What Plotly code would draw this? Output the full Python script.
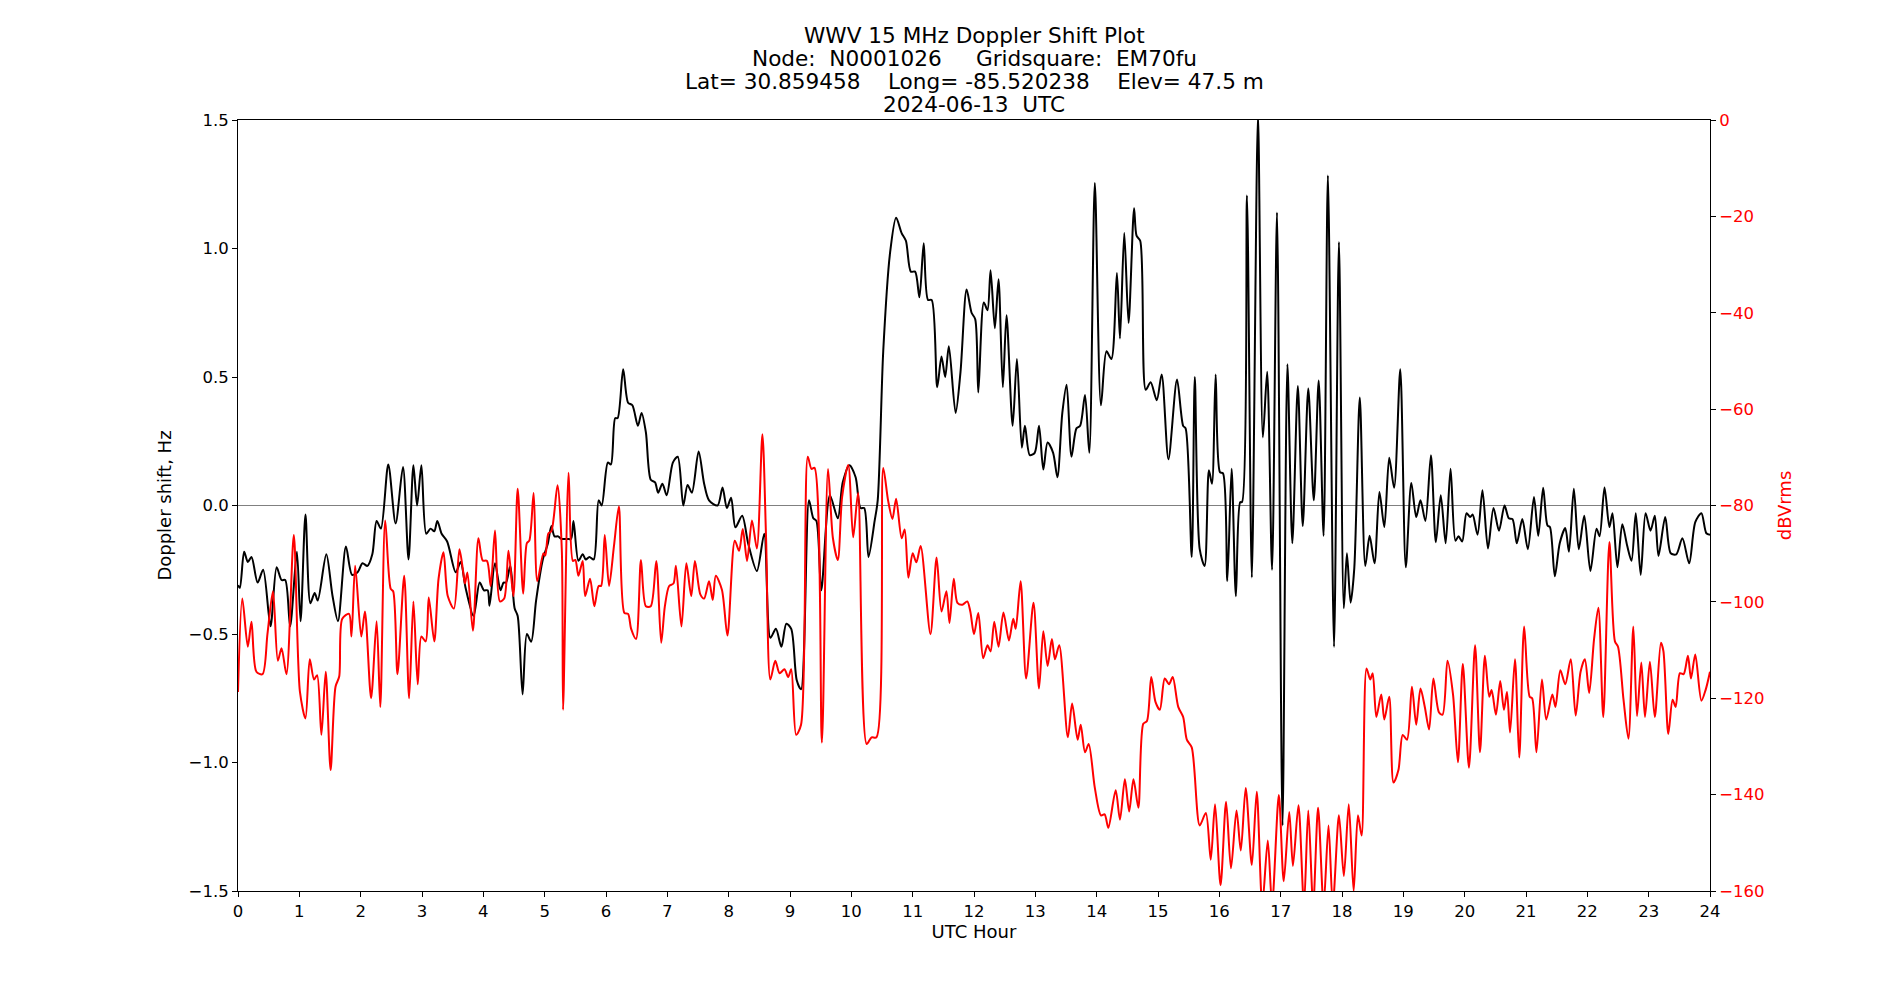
import plotly.graph_objects as go

# ---------------- data ----------------
doppler_hours = [0.00,0.03,0.10,0.16,0.22,0.32,0.41,0.53,0.63,0.71,0.77,0.85,0.96,1.02,1.10,1.18,1.25,1.30,1.44,1.54,
 1.63,1.76,1.86,1.95,2.03,2.11,2.19,2.26,2.33,2.45,2.57,2.69,2.78,2.86,2.92,2.99,3.07,3.14,3.20,3.25,
 3.32,3.41,3.55,3.63,3.71,3.84,3.94,4.01,4.07,4.10,4.19,4.28,4.33,4.37,4.44,4.51,4.56,4.64,4.71,4.78,
 4.86,4.97,5.05,5.11,5.16,5.22,5.27,5.37,5.43,5.47,5.55,5.62,5.67,5.73,5.80,5.88,5.93,6.03,6.08,6.15,
 6.19,6.28,6.36,6.43,6.52,6.58,6.65,6.73,6.80,6.85,6.92,6.99,7.09,7.17,7.26,7.33,7.40,7.51,7.60,7.68,
 7.82,7.90,7.97,8.04,8.11,8.22,8.32,8.46,8.58,8.68,8.77,8.86,8.94,9.02,9.11,9.18,9.31,9.38,9.43,9.51,
 9.65,9.78,9.86,9.97,10.07,10.15,10.21,10.28,10.38,10.43,10.52,10.63,10.73,10.82,10.89,10.97,11.04,11.11,11.18,11.25,
 11.31,11.40,11.47,11.53,11.59,11.70,11.78,11.88,11.96,12.02,12.07,12.16,12.22,12.27,12.34,12.40,12.47,12.53,12.63,12.70,
 12.78,12.83,12.91,12.99,13.06,13.13,13.20,13.29,13.36,13.44,13.51,13.59,13.67,13.73,13.81,13.88,13.97,14.07,14.16,14.24,
 14.33,14.38,14.45,14.52,14.61,14.65,14.71,14.80,14.88,14.98,15.06,15.17,15.31,15.41,15.45,15.55,15.60,15.68,15.76,15.83,
 15.88,15.94,16.01,16.06,16.13,16.20,16.27,16.34,16.37,16.45,16.53,16.63,16.71,16.78,16.86,16.94,17.03,17.11,17.19,17.28,
 17.36,17.45,17.54,17.62,17.70,17.77,17.87,17.95,18.03,18.08,18.14,18.20,18.29,18.38,18.45,18.53,18.61,18.69,18.77,18.85,
 18.95,19.04,19.13,19.21,19.28,19.36,19.45,19.53,19.61,19.69,19.77,19.85,19.90,19.96,20.03,20.09,20.13,20.21,20.29,20.38,
 20.47,20.56,20.65,20.72,20.78,20.85,20.94,21.03,21.13,21.20,21.28,21.35,21.39,21.47,21.55,21.64,21.70,21.78,21.86,21.95,
 22.05,22.15,22.20,22.28,22.36,22.41,22.49,22.57,22.65,22.72,22.79,22.87,22.95,23.03,23.10,23.16,23.27,23.36,23.45,23.55,
 23.66,23.76,23.86,23.94,24.00]
doppler_hz = [-0.31,-0.32,-0.18,-0.22,-0.20,-0.30,-0.25,-0.47,-0.24,-0.29,-0.29,-0.47,-0.18,-0.45,-0.035,-0.38,-0.34,-0.37,-0.19,-0.35,
 -0.45,-0.16,-0.27,-0.26,-0.225,-0.235,-0.19,-0.06,-0.09,0.16,-0.07,0.15,-0.21,0.157,0.0,0.157,-0.11,-0.09,-0.10,-0.06,
 -0.11,-0.14,-0.26,-0.22,-0.32,-0.43,-0.30,-0.33,-0.33,-0.39,-0.225,-0.33,-0.30,-0.30,-0.235,-0.40,-0.43,-0.735,-0.50,-0.53,
 -0.37,-0.21,-0.15,-0.08,-0.12,-0.12,-0.13,-0.13,-0.13,-0.06,-0.215,-0.19,-0.21,-0.20,-0.21,0.02,0.0,0.167,0.16,0.34,
 0.34,0.53,0.40,0.39,0.31,0.36,0.285,0.10,0.09,0.05,0.085,0.04,0.167,0.19,0.0,0.08,0.05,0.21,0.085,0.02,
 0.0,0.07,-0.01,0.03,-0.085,-0.04,-0.15,-0.255,-0.11,-0.515,-0.48,-0.55,-0.46,-0.48,-0.68,-0.715,0.02,-0.05,-0.06,-0.33,
 0.04,-0.05,0.09,0.157,0.11,-0.01,-0.01,-0.20,-0.06,0.02,0.60,0.98,1.12,1.06,1.03,0.91,0.91,0.81,1.02,0.80,
 0.80,0.46,0.58,0.50,0.62,0.36,0.52,0.84,0.75,0.725,0.44,0.79,0.76,0.915,0.69,0.88,0.46,0.74,0.31,0.57,
 0.225,0.31,0.196,0.205,0.31,0.14,0.245,0.205,0.11,0.36,0.47,0.19,0.30,0.31,0.43,0.205,1.255,0.39,0.60,0.57,
 0.905,0.65,1.06,0.71,1.157,1.05,1.03,0.45,0.48,0.41,0.51,0.18,0.49,0.31,0.30,-0.20,0.50,-0.17,-0.235,0.137,
 0.085,0.51,0.13,0.125,-0.294,0.143,-0.353,0.013,0.013,1.206,-0.28,1.52,0.265,0.52,-0.25,1.14,-1.245,0.55,-0.147,0.465,
 -0.08,0.455,0.02,0.486,-0.118,1.284,-0.55,1.025,-0.40,-0.186,-0.378,-0.245,0.42,-0.235,-0.118,-0.225,0.053,-0.084,0.186,0.069,
 0.53,-0.24,0.088,-0.045,0.02,-0.06,0.196,-0.143,0.04,-0.147,0.143,-0.137,-0.12,-0.14,-0.03,-0.045,-0.035,-0.114,0.059,-0.167,
 -0.01,-0.098,0.0,-0.05,-0.053,-0.147,-0.053,-0.17,0.033,-0.118,0.069,-0.078,-0.084,-0.275,-0.147,-0.088,-0.18,0.065,-0.17,-0.04,
 -0.255,-0.09,-0.12,0.07,-0.084,-0.03,-0.24,-0.073,-0.157,-0.215,-0.03,-0.27,-0.03,-0.098,-0.04,-0.196,-0.045,-0.186,-0.19,-0.127,
 -0.225,-0.065,-0.03,-0.108,-0.114]

power_hours = [0.00,0.07,0.16,0.22,0.30,0.40,0.48,0.57,0.65,0.71,0.79,0.91,1.01,1.10,1.17,1.24,1.29,1.36,1.43,1.51,
 1.59,1.65,1.70,1.81,1.85,1.91,2.01,2.07,2.17,2.26,2.32,2.40,2.49,2.53,2.60,2.71,2.79,2.86,2.93,2.99,
 3.06,3.11,3.20,3.27,3.35,3.42,3.52,3.61,3.67,3.70,3.74,3.83,3.92,3.99,4.06,4.12,4.19,4.27,4.34,4.41,
 4.49,4.56,4.65,4.71,4.75,4.82,4.88,4.98,5.01,5.06,5.11,5.21,5.28,5.30,5.39,5.46,5.50,5.55,5.62,5.66,
 5.74,5.81,5.88,5.92,5.98,6.05,6.13,6.21,6.30,6.36,6.41,6.49,6.57,6.65,6.73,6.82,6.90,6.96,7.03,7.10,
 7.14,7.23,7.31,7.39,7.45,7.54,7.60,7.68,7.74,7.79,7.89,7.98,8.10,8.17,8.23,8.30,8.38,8.46,8.55,8.61,
 8.68,8.76,8.83,8.91,8.97,9.02,9.10,9.18,9.29,9.35,9.40,9.52,9.62,9.70,9.78,9.85,9.95,10.03,10.11,10.25,
 10.33,10.41,10.52,10.60,10.67,10.73,10.82,10.87,10.93,11.00,11.06,11.13,11.29,11.39,11.47,11.55,11.60,11.67,11.73,11.81,
 11.89,11.94,12.00,12.07,12.15,12.22,12.27,12.33,12.40,12.48,12.57,12.64,12.68,12.76,12.85,12.97,13.06,13.13,13.20,13.27,
 13.32,13.39,13.53,13.60,13.69,13.74,13.81,13.87,13.97,14.07,14.13,14.19,14.31,14.38,14.46,14.53,14.60,14.68,14.76,14.82,
 14.89,14.96,15.03,15.11,15.18,15.24,15.33,15.41,15.47,15.55,15.68,15.78,15.86,15.93,16.02,16.11,16.19,16.28,16.35,16.43,
 16.53,16.61,16.70,16.79,16.86,16.97,17.05,17.14,17.20,17.29,17.38,17.45,17.53,17.61,17.70,17.78,17.85,17.95,18.03,18.11,
 18.19,18.26,18.32,18.40,18.46,18.50,18.56,18.64,18.69,18.77,18.84,18.92,18.99,19.06,19.14,19.21,19.28,19.35,19.42,19.49,
 19.58,19.64,19.72,19.81,19.89,19.97,20.07,20.17,20.25,20.33,20.40,20.44,20.51,20.58,20.64,20.69,20.74,20.82,20.89,20.97,
 21.06,21.10,21.17,21.26,21.33,21.43,21.48,21.56,21.64,21.73,21.81,21.89,21.96,22.03,22.11,22.18,22.26,22.36,22.45,22.50,
 22.59,22.67,22.75,22.81,22.88,22.94,23.02,23.10,23.20,23.24,23.32,23.39,23.44,23.51,23.57,23.64,23.69,23.76,23.86,23.93,
 24.00]
power_dbv = [-118.7,-99.3,-109.3,-104.1,-114.5,-115.0,-106.7,-97.8,-112.2,-109.6,-115.0,-86.1,-118.7,-124.2,-111.9,-116.1,-115.2,-127.6,-114.5,-134.9,
 -117.6,-115.5,-103.5,-102.5,-107.2,-92.5,-107.2,-102.0,-120.0,-104.0,-121.8,-83.1,-97.3,-97.8,-115.0,-94.6,-120.0,-99.9,-117.1,-107.2,
 -108.2,-99.1,-108.2,-95.2,-89.7,-98.8,-101.4,-89.1,-93.6,-96.2,-93.9,-106.0,-86.8,-91.4,-91.5,-96.7,-85.2,-99.9,-99.3,-89.4,
 -98.8,-76.5,-98.3,-87.8,-87.3,-77.4,-95.7,-89.9,-90.4,-85.8,-85.3,-75.8,-89.4,-122.4,-73.2,-91.5,-91.3,-94.6,-91.5,-98.8,
 -95.2,-100.9,-96.7,-96.7,-86.1,-96.7,-88.4,-80.2,-102.3,-102.5,-105.6,-107.7,-91.3,-100.9,-100.9,-91.5,-108.5,-100.9,-96.7,-96.2,
 -92.5,-105.1,-92.0,-98.8,-91.5,-98.5,-99.3,-95.7,-99.6,-94.6,-97.5,-107.0,-87.3,-89.4,-84.9,-91.5,-83.1,-88.9,-65.2,-86.8,
 -116.1,-112.2,-114.8,-114.0,-115.6,-114.0,-127.6,-125.5,-69.9,-72.4,-72.2,-129.2,-72.4,-86.8,-91.3,-78.2,-71.6,-86.6,-77.4,-129.5,
 -128.1,-128.1,-72.2,-79.0,-82.8,-78.6,-86.8,-85.0,-95.0,-89.9,-91.8,-88.4,-106.7,-90.8,-102.0,-97.8,-104.4,-95.2,-100.2,-100.6,
 -99.9,-102.0,-106.7,-102.3,-111.7,-109.0,-110.3,-104.1,-109.3,-102.2,-108.0,-103.5,-105.6,-95.7,-115.9,-100.2,-118.0,-106.1,-113.3,-107.7,
 -111.9,-109.0,-128.1,-121.1,-128.6,-125.5,-131.2,-129.5,-138.6,-144.3,-144.1,-146.9,-139.1,-145.2,-136.8,-143.5,-136.8,-142.7,-125.3,-124.7,
 -115.6,-120.8,-122.4,-115.9,-117.1,-115.6,-121.8,-123.9,-128.6,-130.2,-146.4,-143.8,-153.5,-142.0,-158.8,-141.5,-155.3,-143.3,-151.6,-138.6,
 -154.6,-139.4,-163.0,-149.5,-163.0,-140.1,-158.0,-143.6,-154.8,-142.2,-163.0,-143.3,-163.0,-142.7,-163.0,-146.4,-163.0,-144.3,-156.9,-142.0,
 -160.0,-144.3,-148.5,-113.8,-116.1,-114.8,-123.9,-119.2,-124.4,-119.7,-137.5,-134.9,-127.6,-128.6,-117.6,-125.5,-118.0,-121.8,-126.5,-115.9,
 -122.9,-123.4,-112.2,-119.2,-133.3,-112.9,-134.4,-109.0,-131.2,-111.2,-119.7,-118.3,-123.4,-116.4,-122.4,-118.7,-127.1,-111.9,-132.3,-105.1,
 -119.7,-120.0,-131.2,-116.1,-124.4,-119.2,-121.8,-114.2,-117.1,-111.9,-123.6,-114.5,-111.9,-118.9,-107.7,-101.2,-123.9,-87.6,-108.2,-109.3,
 -120.3,-128.4,-105.1,-123.7,-112.6,-123.9,-112.4,-123.9,-108.5,-110.2,-127.4,-120.3,-121.8,-114.8,-115.0,-111.2,-115.9,-110.9,-120.5,-118.2,
 -114.5]

hour_ticks = list(range(0, 25))
doppler_ticks = [-1.5, -1.0, -0.5, 0.0, 0.5, 1.0, 1.5]
power_ticks = [-160, -140, -120, -100, -80, -60, -40, -20, 0]

title_lines = ["WWV 15 MHz Doppler Shift Plot",
               "Node:  N0001026     Gridsquare:  EM70fu",
               "Lat= 30.859458    Long= -85.520238    Elev= 47.5 m",
               "2024-06-13  UTC"]

FONT = "DejaVu Sans"
MARGIN_T, MARGIN_B = 120, 109
PLOT_H = 1000 - MARGIN_T - MARGIN_B
title_centers_px = [35.5, 58.5, 81.5, 104.5]

fig = go.Figure()
fig.add_trace(go.Scatter(x=doppler_hours, y=doppler_hz, mode="lines",
                         line=dict(color="black", width=2, shape="spline", smoothing=0.8),
                         yaxis="y", showlegend=False, hoverinfo="skip"))
fig.add_trace(go.Scatter(x=power_hours, y=power_dbv, mode="lines",
                         line=dict(color="red", width=2, shape="spline", smoothing=0.8),
                         yaxis="y2", showlegend=False, hoverinfo="skip"))

fig.add_shape(type="line", xref="paper", x0=0, x1=1, yref="y", y0=0, y1=0,
              line=dict(color="gray", width=1), layer="below")

for line_text, cy in zip(title_lines, title_centers_px):
    fig.add_annotation(text=line_text, xref="paper", x=0.5, xanchor="center",
                       yref="paper", y=1 + (MARGIN_T - cy) / PLOT_H, yanchor="middle",
                       showarrow=False, font=dict(family=FONT, size=21.6, color="black"))

fig.update_layout(
    width=1900, height=1000,
    margin=dict(l=238, r=190, t=MARGIN_T, b=MARGIN_B),
    paper_bgcolor="white", plot_bgcolor="white",
    font=dict(family=FONT, size=16, color="black"),
    xaxis=dict(range=[0, 24], tickvals=hour_ticks, ticktext=[str(h) for h in hour_ticks],
               showgrid=False, zeroline=False, showline=True, linecolor="black", linewidth=1,
               mirror=True, ticks="outside", ticklen=5, tickcolor="black", tickwidth=1,
               tickfont=dict(size=16.5), title=dict(text="UTC Hour", font=dict(size=18), standoff=4)),
    yaxis=dict(range=[-1.5, 1.5], tickvals=doppler_ticks, tickformat=".1f",
               showgrid=False, zeroline=False, showline=True, linecolor="black", linewidth=1,
               ticks="outside", ticklen=5, tickcolor="black", tickwidth=1,
               tickfont=dict(size=16.5), title=dict(text="Doppler shift, Hz", font=dict(size=18), standoff=12)),
    yaxis2=dict(range=[-160, 0], tickvals=power_ticks, overlaying="y", side="right",
                showgrid=False, zeroline=False, showline=True, linecolor="black", linewidth=1,
                ticks="outside", ticklen=5, tickcolor="black", tickwidth=1,
                tickfont=dict(size=16.5, color="red"),
                title=dict(text="dBVrms", font=dict(size=18, color="red"), standoff=14)),
)

fig.write_html("out.html")
